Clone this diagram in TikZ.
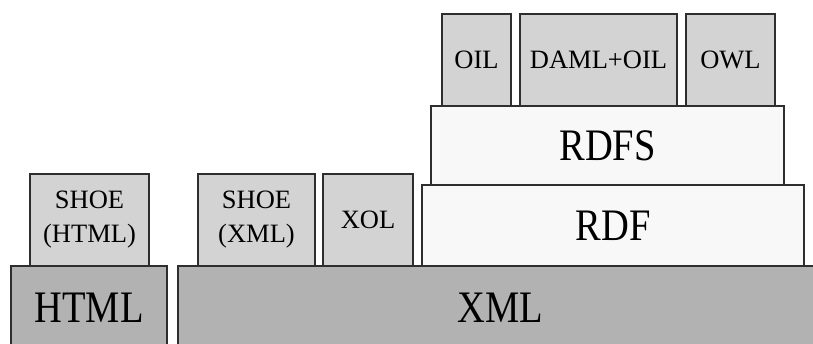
\documentclass[tikz,border=0pt]{standalone}
\usepackage{fontspec}
\setmainfont{Liberation Serif}
\definecolor{edge}{HTML}{2E2E2E}
\definecolor{basefill}{HTML}{B2B2B2}
\definecolor{langfill}{HTML}{D3D3D3}
\definecolor{rdffill}{HTML}{F8F8F8}
\newcommand\bigtxt[1]{\scalebox{1}[1.17]{\fontsize{38.5}{40}\selectfont #1}}
\tikzset{
  layer/.style={rectangle, draw=edge, line width=1.2pt, inner sep=0pt, align=center},
  baselayer/.style={layer, fill=basefill},
  rdflayer/.style={layer, fill=rdffill},
  langbox/.style={layer, fill=langfill, minimum height=92pt,
    font=\fontsize{26.5}{34}\selectfont},
}
\begin{document}
\begin{tikzpicture}[x=1pt,y=-1pt]
\useasboundingbox (0,0) rectangle (813,343);
\clip (0,0) rectangle (813,343);
\fill[white] (0,0) rectangle (813,343);

% base layers
\node[baselayer, minimum width=156pt, minimum height=84pt] (html) at (89,308) {\bigtxt{HTML}};
\node[baselayer, minimum width=652pt, minimum height=84pt] (xml) at (504,308) {};
\node (xmltext) at (500,308) {\bigtxt{XML}};

% RDF stack
\node[rdflayer, minimum width=382pt, minimum height=81pt] (rdf) at (613,225.5) {\bigtxt{RDF}};
\node[rdflayer, minimum width=353pt, minimum height=79pt] (rdfs) at (607.5,145.5) {\bigtxt{RDFS}};

% ontology languages
\node[langbox, minimum width=119pt] (shoehtml) at (89.5,220) {SHOE\\(HTML)};
\node[langbox, minimum width=117pt] (shoexml) at (256.5,220) {SHOE\\(XML)};
\node[langbox, minimum width=90pt] (xol) at (368,220) {XOL};
\node[langbox, minimum width=69pt] (oil) at (476.5,60) {OIL};
\node[langbox, minimum width=157pt] (damloil) at (598.5,60) {DAML+OIL};
\node[langbox, minimum width=89pt] (owl) at (730.5,60) {OWL};
\end{tikzpicture}
\end{document}
